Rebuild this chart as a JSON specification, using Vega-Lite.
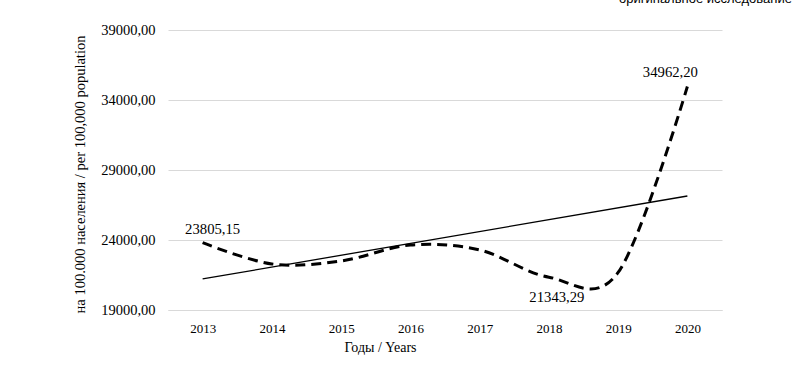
{
  "$schema": "https://vega.github.io/schema/vega-lite/v6.json",
  "autosize": {"type": "none"},
  "padding": {"left": 168, "top": 30, "right": 72, "bottom": 61},
  "width": 554,
  "height": 280,
  "background": "white",
  "title": {"text": "оригинальное исследование", "anchor": "end", "orient": "top", "frame": "group", "offset": 0, "baseline": "alphabetic", "dx": 70, "dy": -6.5, "font": "Liberation Sans", "fontSize": 13, "fontWeight": "normal", "color": "#000000"},
  "config": {
    "view": {"stroke": null},
    "locale": {"number": {"decimal": ",", "thousands": "\u00a0", "grouping": [3], "currency": ["", ""]}}
  },
  "datasets": {
    "main": [
      {"year": "2013", "value": 23805.15},
      {"year": "2014", "value": 22290},
      {"year": "2015", "value": 22500},
      {"year": "2016", "value": 23640},
      {"year": "2017", "value": 23290},
      {"year": "2018", "value": 21343.29},
      {"year": "2019", "value": 21680},
      {"year": "2020", "value": 34962.20}
    ],
    "trend": [
      {"year": "2013", "value": 21218},
      {"year": "2020", "value": 27143}
    ]
  },
  "encoding": {
    "x": {"field": "year", "type": "ordinal",
      "scale": {"type": "point", "padding": 0.5, "domain": ["2013","2014","2015","2016","2017","2018","2019","2020"]},
      "axis": {"title": "Годы / Years", "titleFont": "Liberation Serif", "titleFontSize": 14, "titleFontWeight": "normal", "titleColor": "#000000", "titleX": 212, "titleY": 37, "titleBaseline": "middle", "titleAnchor": "middle", "titleAlign": "center",
        "labelFont": "Liberation Serif", "labelFontSize": 13, "labelColor": "#000000", "labelAngle": 0, "labelPadding": 12,
        "ticks": false, "domain": true, "domainColor": "#d9d9d9", "domainWidth": 1, "grid": false}},
    "y": {"field": "value", "type": "quantitative",
      "scale": {"domain": [19000, 39000], "nice": false, "zero": false},
      "axis": {"values": [19000, 24000, 29000, 34000, 39000], "format": ".2f", "grid": true, "gridColor": "#d9d9d9", "gridWidth": 1, "domain": false, "ticks": false,
        "labelFont": "Liberation Serif", "labelFontSize": 14.5, "labelColor": "#000000", "labelPadding": 13,
        "title": "на 100.000 населения / per 100,000 population", "titleFont": "Liberation Serif", "titleFontSize": 14.5, "titleFontWeight": "normal", "titleColor": "#000000",
        "titleX": -88, "titleY": 144, "titleAngle": -90, "titleBaseline": "middle", "titleAlign": "center"}}
  },
  "layer": [
    {"data": {"name": "trend"}, "mark": {"type": "line", "color": "#000000", "strokeWidth": 1.3}},
    {"data": {"name": "main"}, "mark": {"type": "line", "color": "#000000", "strokeWidth": 3, "strokeDash": [10, 6], "interpolate": "cardinal", "tension": 0}},
    {"data": {"name": "main"}, "transform": [{"filter": "datum.year == '2013'"}],
      "mark": {"type": "text", "font": "Liberation Serif", "fontSize": 14.7, "color": "#000000", "dx": 10, "dy": -13, "baseline": "middle"},
      "encoding": {"text": {"field": "value", "type": "quantitative", "format": ".2f"}}},
    {"data": {"name": "main"}, "transform": [{"filter": "datum.year == '2018'"}],
      "mark": {"type": "text", "font": "Liberation Serif", "fontSize": 14.7, "color": "#000000", "dx": 8, "dy": 21, "baseline": "middle"},
      "encoding": {"text": {"field": "value", "type": "quantitative", "format": ".2f"}}},
    {"data": {"name": "main"}, "transform": [{"filter": "datum.year == '2020'"}],
      "mark": {"type": "text", "font": "Liberation Serif", "fontSize": 14.7, "color": "#000000", "dx": -17, "dy": -14, "baseline": "middle"},
      "encoding": {"text": {"field": "value", "type": "quantitative", "format": ".2f"}}}
  ]
}
